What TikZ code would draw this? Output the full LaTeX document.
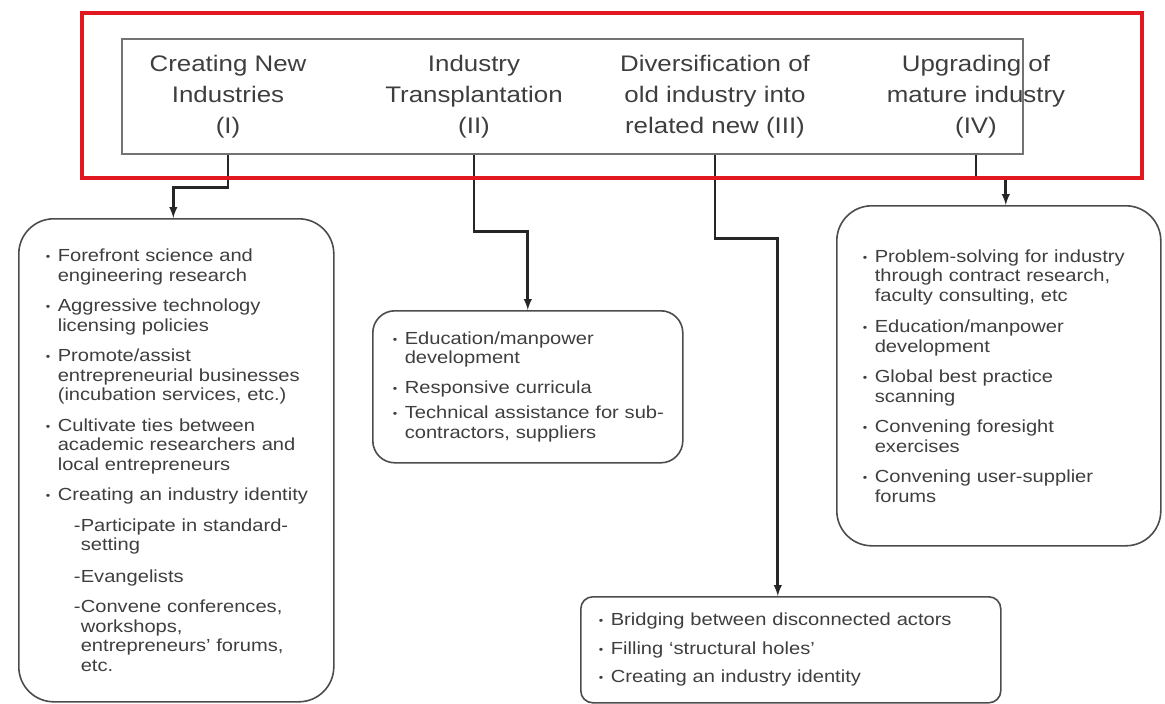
\documentclass[tikz,border=0pt]{standalone}
\usepackage{fontspec}
\setmainfont{Liberation Sans}[FakeStretch=1.15]
\usepackage{tikz}
\usetikzlibrary{arrows}
\definecolor{framered}{RGB}{226,24,32}
\definecolor{txtgray}{RGB}{62,62,62}
\newcommand{\bulmark}{\makebox[12pt][l]{\raisebox{1pt}{\fontsize{11}{11}\selectfont\textbullet}}}
\newcommand{\bitem}[1]{\mbox{\bulmark#1}}
\newcommand{\bcont}[1]{\mbox{\hspace*{12pt}#1}}
\newcommand{\sitem}[1]{\mbox{\hspace*{28pt}\makebox[7pt][l]{-}#1}}
\newcommand{\scont}[1]{\mbox{\hspace*{35pt}#1}}
\begin{document}
\begin{tikzpicture}[x=1pt,y=-1pt,
  box/.style={draw=black!70,line width=1.6pt,anchor=north west,align=left,inner ysep=0pt,
    font=\fontsize{17.5}{19.5}\selectfont,text=txtgray},
  hd/.style={align=center,font=\fontsize{22.5}{31}\selectfont,text=txtgray},
  conn/.style={line width=2.7pt,draw=black!85,-latex}]
\useasboundingbox (0,0) rectangle (1165,704);

% strategy header
\node[draw=black!55,line width=1.5pt,minimum width=901pt,minimum height=115pt,inner sep=0pt] (hdr) at (572.5,96.5) {};
\node[hd] (h1) at (228,97) {Creating New\\Industries\\(I)};
\node[hd] (h2) at (474,97) {Industry\\Transplantation\\(II)};
\node[hd] (h3) at (715,97) {Diversification of\\old industry into\\related new (III)};
\node[hd] (h4) at (976,97) {Upgrading of\\mature industry\\(IV)};

% roles of the university
\node[box,rounded corners=35pt,text width=261pt,inner xsep=27pt,minimum height=483pt] (b1) at (18,218) {%
\bitem{Forefront science and}\\
\bcont{engineering research}\\[11pt]
\bitem{Aggressive technology}\\
\bcont{licensing policies}\\[11pt]
\bitem{Promote/assist}\\
\bcont{entrepreneurial businesses}\\
\bcont{(incubation services, etc.)}\\[11pt]
\bitem{Cultivate ties between}\\
\bcont{academic researchers and}\\
\bcont{local entrepreneurs}\\[11pt]
\bitem{Creating an industry identity}\\[11pt]
\sitem{Participate in standard-}\\
\scont{setting}\\[12pt]
\sitem{Evangelists}\\[11pt]
\sitem{Convene conferences,}\\
\scont{workshops,}\\
\scont{entrepreneurs' forums,}\\
\scont{etc.}};

\node[box,rounded corners=22pt,text width=270pt,inner xsep=20pt,minimum height=152pt] (b2) at (372,310) {%
\bitem{Education/manpower}\\
\bcont{development}\\[10pt]
\bitem{Responsive curricula}\\[6pt]
\bitem{Technical assistance for sub-}\\
\bcont{contractors, suppliers}};

\node[box,rounded corners=12pt,text width=384pt,inner xsep=18pt,minimum height=106pt] (b3) at (580,596) {%
\bitem{Bridging between disconnected actors}\\[9pt]
\bitem{Filling `structural holes'}\\[9pt]
\bitem{Creating an industry identity}};

\node[box,rounded corners=35pt,text width=272pt,inner xsep=26pt,minimum height=340pt] (b4) at (836,205) {%
\bitem{Problem-solving for industry}\\
\bcont{through contract research,}\\
\bcont{faculty consulting, etc}\\[12pt]
\bitem{Education/manpower}\\
\bcont{development}\\[11pt]
\bitem{Global best practice}\\
\bcont{scanning}\\[11pt]
\bitem{Convening foresight}\\
\bcont{exercises}\\[11pt]
\bitem{Convening user-supplier}\\
\bcont{forums}};

% links
\draw[conn] (h1 |- hdr.south) -- ++(0,33) -| ([xshift=-3pt]b1.north);
\draw[conn] (h2 |- hdr.south) -- ++(0,77) -| (b2.north);
\draw[conn] (h3 |- hdr.south) -- ++(0,84) -| ([xshift=-13pt]b3.north);
\draw[conn] (h4 |- hdr.south) -- ++(0,24) -| ([xshift=7pt]b4.north);

% red frame on top
\node[draw=framered,line width=3.5pt,minimum width=1060pt,minimum height=165pt,inner sep=0pt] (frame) at (612,95.5) {};
\end{tikzpicture}
\end{document}
